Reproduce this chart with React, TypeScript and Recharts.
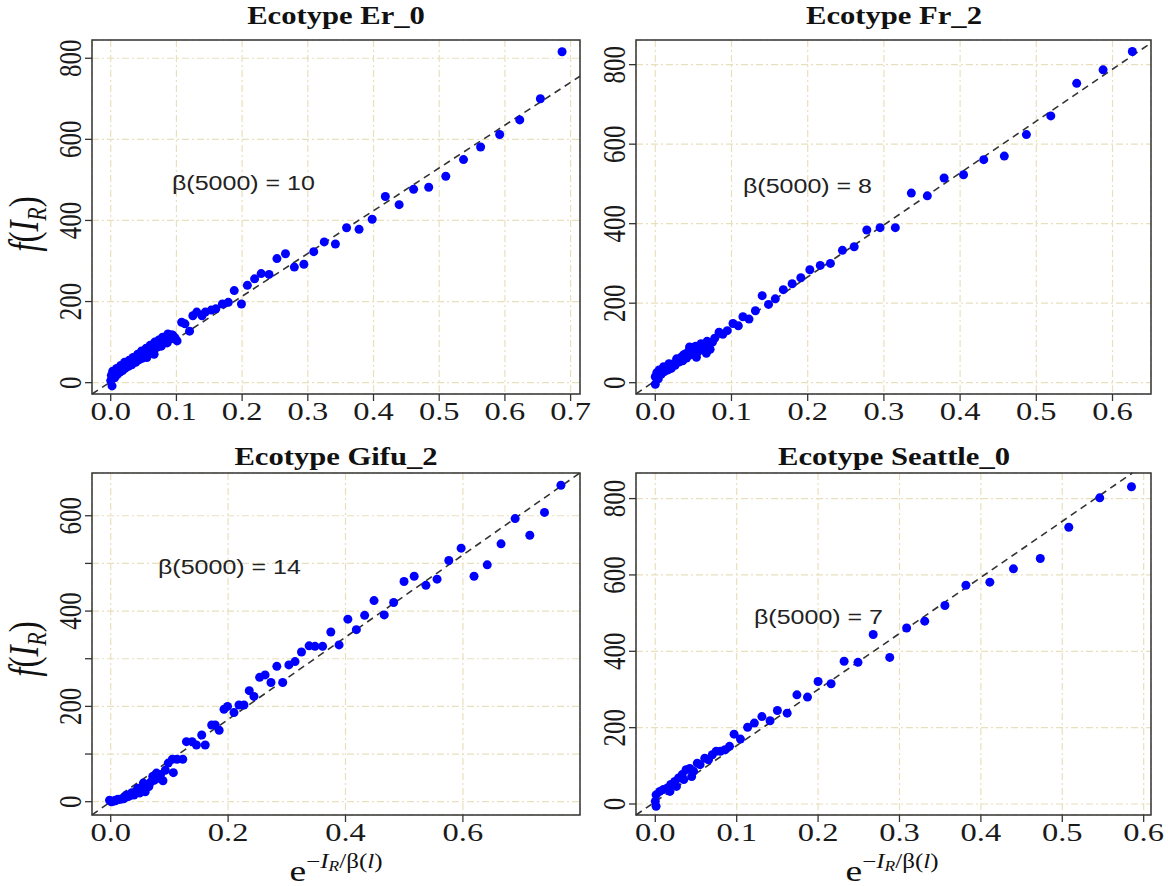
import React from 'react';
import { ScatterChart, Scatter, XAxis, YAxis, CartesianGrid, ReferenceLine, ReferenceArea } from 'recharts';

// ---------- Ecotype Er_0 ----------
const er0X = [
  0.000, 0.001, 0.002, 0.004, 0.006, 0.008, 0.010, 0.012, 0.014, 0.016, 0.018, 0.020, 0.022, 0.025, 0.027, 0.030, 0.032, 0.035, 0.038, 0.040,
  0.043, 0.046, 0.048, 0.050, 0.053, 0.055, 0.058, 0.061, 0.063, 0.066, 0.068, 0.071, 0.074, 0.077, 0.080, 0.083, 0.086, 0.089, 0.092, 0.095, 0.098,
  0.101, 0.108, 0.113, 0.120, 0.125, 0.131, 0.139, 0.144, 0.153, 0.160, 0.170, 0.179, 0.188, 0.199, 0.208, 0.219, 0.229, 0.241, 0.253, 0.266,
  0.2795, 0.294, 0.309, 0.325, 0.342, 0.359, 0.378, 0.398, 0.418, 0.439, 0.461, 0.484, 0.510, 0.537, 0.563, 0.592, 0.6226, 0.654, 0.687,
  0.003, 0.009, 0.015, 0.021, 0.028, 0.034, 0.041, 0.047, 0.054, 0.060, 0.067, 0.073, 0.079, 0.087, 0.093,
];
const er0Y = [
  5, 18, -8, 22, 12, 25, 20, 30, 26, 34, 30, 38, 36, 42, 40, 46, 44, 52, 50, 58,
  56, 64, 60, 68, 72, 62, 80, 76, 86, 70, 92, 88, 96, 90, 100, 106, 98, 112, 108, 116, 110,
  103, 149, 145, 127, 165, 174, 165, 174, 179, 182, 194, 198, 227, 194, 240, 256, 269, 267, 306, 318,
  285, 292, 323, 347, 342, 382, 378, 403, 459, 439, 477, 482, 509, 550, 581, 612, 648, 700, 816,
  28, 35, 42, 50, 55, 62, 70, 78, 85, 92, 100, 105, 112, 120, 118,
];
const er0XTicks = [0, 0.1, 0.2, 0.3, 0.4, 0.5, 0.6, 0.7];
const er0YTicks = [0, 200, 400, 600, 800];

// ---------- Ecotype Fr_2 ----------
const fr2X = [
  0.000, 0.000, 0.002, 0.004, 0.006, 0.008, 0.010, 0.012, 0.014, 0.016, 0.019, 0.021, 0.024, 0.026, 0.029, 0.031, 0.034, 0.036, 0.039, 0.041,
  0.044, 0.046, 0.049, 0.051, 0.054, 0.056, 0.059, 0.062, 0.065, 0.067, 0.070, 0.072, 0.075, 0.078,
  0.0837, 0.0886, 0.0945, 0.102, 0.109, 0.115, 0.123, 0.1314, 0.1403, 0.1486, 0.1575, 0.168, 0.1796, 0.191, 0.2028, 0.2165, 0.2298, 0.2456, 0.261, 0.2776,
  0.295, 0.315, 0.336, 0.357, 0.379, 0.4045, 0.431, 0.458, 0.487, 0.519, 0.553, 0.5876, 0.626,
  0.005, 0.011, 0.018, 0.028, 0.037, 0.045, 0.053, 0.060, 0.068,
];
const fr2Y = [
  15, -4, 25, 10, 30, 22, 35, 28, 38, 32, 42, 36, 48, 44, 58, 52, 64, 55, 72, 62,
  80, 70, 88, 84, 64, 78, 90, 86, 94, 74, 96, 84, 102, 112,
  127, 122, 131, 149, 143, 166, 160, 181, 219, 197, 211, 234, 249, 264, 284, 295, 300, 333, 342, 384,
  390, 390, 477, 470, 515, 523, 561, 570, 624, 671, 753, 787, 833,
  32, 40, 48, 60, 70, 90, 92, 98, 104,
];
const fr2XTicks = [0, 0.1, 0.2, 0.3, 0.4, 0.5, 0.6];
const fr2YTicks = [0, 200, 400, 600, 800];

// ---------- Ecotype Gifu_2 ----------
const gifu2X = [
  -0.002, 0.001, 0.0077, 0.011, 0.017, 0.0204, 0.027, 0.030, 0.036, 0.0396, 0.046, 0.049, 0.0556, 0.0588, 0.065, 0.0716, 0.078, 0.081, 0.089, 0.098,
  0.105, 0.1067, 0.113, 0.1227, 0.129, 0.1387, 0.146, 0.155, 0.161, 0.172, 0.178, 0.1847, 0.193, 0.199, 0.210, 0.2185, 0.227, 0.236, 0.244, 0.2537,
  0.263, 0.273, 0.283, 0.293, 0.3035, 0.314, 0.325, 0.338, 0.348, 0.361, 0.375, 0.389, 0.404, 0.4185, 0.4326, 0.4486, 0.466, 0.482, 0.4997, 0.517,
  0.537, 0.556, 0.576, 0.597, 0.619, 0.6415, 0.665, 0.689, 0.714, 0.739, 0.767,
  0.004, 0.008, 0.013, 0.022, 0.025, 0.033, 0.038, 0.043, 0.052, 0.061, 0.068, 0.074, 0.085, 0.093,
];
const gifu2Y = [
  3, 0, 2, 4, 5, 7, 14, 11, 19, 14, 28, 18, 39, 21, 32, 53, 60, 49, 44, 81,
  89, 61, 89, 89, 126, 126, 119, 140, 119, 161, 161, 150, 194, 200, 187, 203, 203, 233, 221, 261,
  266, 250, 284, 250, 287, 294, 314, 327, 326, 326, 356, 329, 383, 361, 391, 422, 392, 418, 462, 473,
  454, 467, 506, 532, 473, 497, 541, 594, 559, 607, 664,
  1, 3, 5, 6, 9, 13, 16, 22, 27, 35, 41, 45, 57, 66,
];
const gifu2XTicks = [0, 0.2, 0.4, 0.6];
const gifu2YTicks = [0, 100, 200, 300, 400, 500, 600];

// ---------- Ecotype Seattle_0 ----------
const seattle0X = [
  0, 0.001, 0.001, 0.0055, 0.010, 0.0147, 0.018, 0.019, 0.024, 0.026, 0.0286, 0.033, 0.035, 0.0378, 0.0424, 0.0447, 0.047, 0.0516, 0.055, 0.0608,
  0.0654, 0.070, 0.0747, 0.080, 0.0857, 0.0912, 0.0968, 0.1046, 0.1134, 0.1217, 0.131, 0.141, 0.150, 0.162, 0.174, 0.187, 0.200, 0.216, 0.232, 0.249,
  0.2677, 0.288, 0.3088, 0.331, 0.3558, 0.3816, 0.411, 0.440, 0.473, 0.508, 0.546, 0.585,
];
const seattle0Y = [
  7, 24, -6, 33, 38, 42, 33, 51, 59, 46, 68, 77, 64, 90, 93, 72, 86, 107, 103, 120,
  116, 129, 138, 138, 142, 151, 183, 170, 201, 212, 229, 218, 245, 238, 286, 280, 321, 315, 374, 371,
  444, 384, 461, 479, 520, 573, 581, 616, 643, 725, 802, 831,
];
const seattle0XTicks = [0, 0.1, 0.2, 0.3, 0.4, 0.5, 0.6];
const seattle0YTicks = [0, 200, 400, 600, 800];

// ---------- text & fitted lines ----------
const panelTitles = ['Ecotype Er_0', 'Ecotype Fr_2', 'Ecotype Gifu_2', 'Ecotype Seattle_0'];
const betaLabels = ['β(5000) = 10', 'β(5000) = 8', 'β(5000) = 14', 'β(5000) = 7'];
const fitSlopes = [1055, 1306, 863, 1469];
const fitIntercepts = [2, 5, 0, 6];
const xDomains = [[-0.0285, 0.7143], [-0.0253, 0.6505], [-0.0319, 0.7995], [-0.0237, 0.609]];
const yDomains = [[-28, 845], [-28.4, 862], [-27.9, 689.7], [-28.8, 867]];

const SERIF = '"Liberation Serif", "Times New Roman", serif';
const SANS = '"Liberation Sans", Arial, sans-serif';
const SX = 1.25;
const W = 1168;
const H = 886;

const layouts = [
  { L: 92, R: 580, T: 40, B: 394, cl: 0, ct: 0, cw: 610, ch: 450 },
  { L: 636, R: 1151, T: 40, B: 394, cl: 580, ct: 0, cw: 588, ch: 450 },
  { L: 92, R: 580, T: 473, B: 815, cl: 0, ct: 440, cw: 610, ch: 446 },
  { L: 636, R: 1151, T: 473, B: 815, cl: 580, ct: 440, cw: 588, ch: 446 },
];

const panelData = [
  { xs: er0X, ys: er0Y, xTicks: er0XTicks, yTicks: er0YTicks },
  { xs: fr2X, ys: fr2Y, xTicks: fr2XTicks, yTicks: fr2YTicks },
  { xs: gifu2X, ys: gifu2Y, xTicks: gifu2XTicks, yTicks: gifu2YTicks },
  { xs: seattle0X, ys: seattle0Y, xTicks: seattle0XTicks, yTicks: seattle0YTicks },
];

const XTick = (props: any) => {
  const { x, y, payload } = props;
  return (
    <text
      transform={`translate(${x},${y + 17}) scale(${SX},1)`}
      textAnchor="middle"
      fontFamily={SERIF}
      fontSize={26}
      fill="#1a1a1a"
    >
      {Number(payload.value).toFixed(1)}
    </text>
  );
};

const YTick = (props: any) => {
  const { x, y, payload } = props;
  if (payload.value % 200 !== 0) return <g />;
  return (
    <text
      transform={`translate(${x + 1},${y}) scale(${SX},1) rotate(-90)`}
      textAnchor="middle"
      fontFamily={SERIF}
      fontSize={25}
      fill="#1a1a1a"
    >
      {String(payload.value)}
    </text>
  );
};

const Dot = (props: any) => <circle cx={props.cx} cy={props.cy} r={4.5} fill="#0000ff" />;

function Panel({ i }: { i: number }) {
  const lay = layouts[i];
  const pd = panelData[i];
  const data = pd.xs.map((x, k) => ({ x, y: pd.ys[k] }));
  const [x0, x1] = xDomains[i];
  const [y0, y1] = yDomains[i];
  const b = fitSlopes[i];
  const a = fitIntercepts[i];
  let lx0 = x0;
  let ly0 = a + b * x0;
  if (ly0 < y0) { lx0 = (y0 - a) / b; ly0 = y0; }
  let lx1 = x1;
  let ly1 = a + b * x1;
  if (ly1 > y1) { lx1 = (y1 - a) / b; ly1 = y1; }
  const margin = {
    left: lay.L - lay.cl - 30,
    right: lay.cl + lay.cw - lay.R,
    top: lay.T - lay.ct,
    bottom: lay.ct + lay.ch - lay.B - 30,
  };
  return (
    <div style={{ position: 'absolute', left: lay.cl, top: lay.ct, width: lay.cw, height: lay.ch }}>
      <ScatterChart width={lay.cw} height={lay.ch} margin={margin}>
        <CartesianGrid stroke="#e8e0bd" strokeWidth={1.2} strokeDasharray="7 3 2 3" />
        <XAxis
          type="number"
          dataKey="x"
          domain={[x0, x1]}
          ticks={pd.xTicks}
          interval={0}
          allowDataOverflow
          height={30}
          tickSize={7}
          tickMargin={2}
          axisLine={false}
          tickLine={{ stroke: '#333', strokeWidth: 1.3 }}
          tick={<XTick />}
        />
        <YAxis
          type="number"
          dataKey="y"
          domain={[y0, y1]}
          ticks={pd.yTicks}
          interval={0}
          allowDataOverflow
          width={30}
          tickSize={7}
          tickMargin={5}
          axisLine={false}
          tickLine={{ stroke: '#333', strokeWidth: 1.3 }}
          tick={<YTick />}
        />
        <Scatter data={data} isAnimationActive={false} shape={Dot} />
        <ReferenceLine
          segment={[{ x: lx0, y: ly0 }, { x: lx1, y: ly1 }]}
          stroke="#333"
          strokeWidth={1.6}
          strokeDasharray="7 5"
          ifOverflow="visible"
        />
        <ReferenceArea x1={x0} x2={x1} y1={y0} y2={y1} fill="none" fillOpacity={0} stroke="#333" strokeWidth={1.5} ifOverflow="visible" />
      </ScatterChart>
    </div>
  );
}

const titlePos = [
  { x: 336, y: 24 },
  { x: 894, y: 24 },
  { x: 336, y: 465 },
  { x: 894, y: 465 },
];
const betaPos = [
  { x: 172, y: 190 },
  { x: 743, y: 193 },
  { x: 158, y: 574 },
  { x: 754, y: 624 },
];

function Overlay() {
  return (
    <svg width={W} height={H} style={{ position: 'absolute', left: 0, top: 0, pointerEvents: 'none' }}>
      {panelTitles.map((t, i) => (
        <text
          key={'t' + i}
          transform={`translate(${titlePos[i].x},${titlePos[i].y}) scale(${SX},1)`}
          textAnchor="middle"
          fontFamily={SERIF}
          fontWeight="bold"
          fontSize={24.5}
          fill="#111"
        >
          {t}
        </text>
      ))}
      {betaLabels.map((t, i) => (
        <text
          key={'b' + i}
          transform={`translate(${betaPos[i].x},${betaPos[i].y}) scale(${SX},1)`}
          textAnchor="start"
          fontFamily={SANS}
          fontSize={20}
          fill="#222"
        >
          {t}
        </text>
      ))}
      {[224, 649].map((cy, i) => (
        <text
          key={'yl' + i}
          transform={`translate(38,${cy}) scale(${SX},1) rotate(-90)`}
          textAnchor="middle"
          fontFamily={SERIF}
          fontSize={33}
          fill="#111"
        >
          <tspan fontStyle="italic">f</tspan>
          <tspan>(</tspan>
          <tspan fontStyle="italic">I</tspan>
          <tspan fontStyle="italic" fontSize={22} dy={6}>R</tspan>
          <tspan dy={-6}>)</tspan>
        </text>
      ))}
      {[336, 892].map((cx, i) => (
        <text
          key={'xl' + i}
          transform={`translate(${cx},881) scale(${SX},1)`}
          textAnchor="middle"
          fontFamily={SERIF}
          fontSize={30}
          fill="#111"
        >
          <tspan>e</tspan>
          <tspan fontSize={20} dy={-13}>−</tspan>
          <tspan fontSize={20} fontStyle="italic">I</tspan>
          <tspan fontSize={14} fontStyle="italic" dy={3}>R</tspan>
          <tspan fontSize={20} dy={-3}>/β(</tspan>
          <tspan fontSize={20} fontStyle="italic">l</tspan>
          <tspan fontSize={20}>)</tspan>
        </text>
      ))}
    </svg>
  );
}

export default function App() {
  return (
    <div style={{ position: 'absolute', left: 0, top: 0, width: W, height: H, background: '#fff', overflow: 'hidden' }}>
      <Panel i={0} />
      <Panel i={1} />
      <Panel i={2} />
      <Panel i={3} />
      <Overlay />
    </div>
  );
}
